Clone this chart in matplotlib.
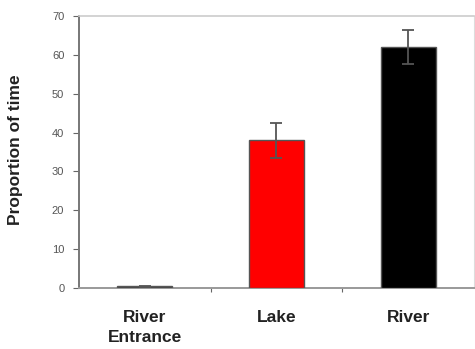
import matplotlib
matplotlib.use("Agg")
import matplotlib.pyplot as plt
import numpy as np

plt.rcParams["font.family"] = ["Liberation Sans", "DejaVu Sans"]

categories = ["River\nEntrance", "Lake", "River"]
values = [0.4, 38, 62]
errors = [0.2, 4.5, 4.3]
colors = ["#444444", "#ff0000", "#000000"]
yticks = [0, 10, 20, 30, 40, 50, 60, 70]

fig = plt.figure(figsize=(4.75, 3.49), dpi=100)
ax = fig.add_axes([0.166, 0.175, 0.832, 0.779])
x = np.arange(len(categories))
ax.bar(x, values, width=0.42, color=colors, edgecolor="#555555", linewidth=1.0, zorder=3)
ax.errorbar(x, values, yerr=errors, fmt="none", ecolor="#555555", elinewidth=1.3,
            capsize=4, capthick=1.3, zorder=4)
ax.set_xlim(-0.5, 2.5)
ax.set_ylim(0, 70)
ax.set_yticks(yticks)
ax.set_yticklabels([str(v) for v in yticks], fontsize=8, color="#555555")
ax.set_xticks([0.5, 1.5])
ax.set_xticklabels(["", ""])
ax.tick_params(axis="x", length=3, color="#666666", direction="out")
ax.tick_params(axis="y", length=4, color="#666666", direction="out", pad=6.5)
for i, c in enumerate(categories):
    ax.text(x[i], -5.7, c, ha="center", va="top", fontsize=12.5, fontweight="bold",
            color="#222222", linespacing=1.45, transform=ax.transData, clip_on=False)
fig.text(16 / 475, 0.570, "Proportion of time", rotation=90, ha="center", va="center",
         fontsize=12.5, fontweight="bold", color="#222222")
ax.spines["left"].set_color("#777777")
ax.spines["left"].set_linewidth(1.4)
ax.spines["bottom"].set_color("#999999")
ax.spines["bottom"].set_linewidth(1.4)
ax.spines["top"].set_color("#cccccc")
ax.spines["top"].set_linewidth(1.2)
ax.spines["right"].set_color("#dddddd")
ax.spines["right"].set_linewidth(0.8)
fig.savefig("out.png", dpi=100)
